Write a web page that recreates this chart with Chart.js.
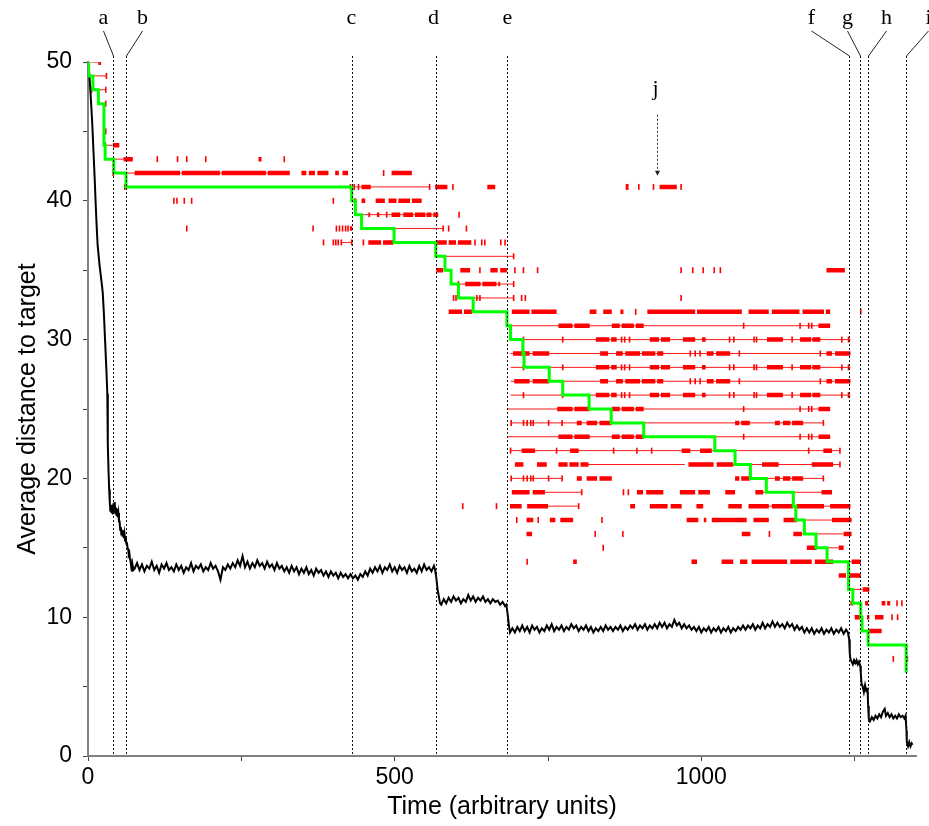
<!DOCTYPE html>
<html><head><meta charset="utf-8">
<script src="https://cdn.jsdelivr.net/npm/chart.js"></script>
<style>html,body{margin:0;padding:0;background:#fff}canvas{display:block}</style>
</head><body>
<canvas id="c" width="929" height="826"></canvas>
<script>
// ---------- DATA ----------
const xTickLabels = [0, 500, 1000];
const yTickLabels = [0, 10, 20, 30, 40, 50];
const eventLabels = ['a','b','c','d','e','f','g','h','i'];
const eventT = [41, 62, 430, 567, 683, 1241, 1259, 1271, 1334];
const jLabel = 'j';
const jT = 927;

// best distance (green step line): time of change, new value
const greenT = [0,1,8,17,26,28,42,62,430,436,446,499,567,582,592,604,628,683,689,709,711,752,774,817,853,906,1022,1055,1080,1106,1150,1154,1168,1187,1205,1240,1247,1260,1262,1272,1334];
const greenV = [50,49,48,47,44,43,42,41,40,39,38,37,36,35,34,33,32,31,30,29,28,27,26,25,24,23,22,21,20,19,18,17,16,15,14,12,11,10,9,8,6];

// average distance (black), [time, value]
const blackSeries = [
[0,50],[2,49.2],[4.5,47.5],[7,45.5],[9,43.5],[11,41.5],[12.5,39.8],[14,38.3],[15.7,36.8],[19,35.3],[22,34.2],[24,33.4],[26,31.8],[28,29.8],[30,27.8],[31.5,26.1],[32,24.2],[32.6,22.4],[33.5,20.5],[34.5,19.2],[35.5,18.3],[36.5,17.6],[37.5,18.1],[38.5,17.5],[39.5,18.0],[40.5,17.4],[41.5,18.2],[42.5,17.6],[43.5,18.3],[44.5,17.5],[45.5,17.9],[46.5,17.3],[47.5,17.8],[48.5,17.2],[49.5,17.5],[50.5,16.9],[51.5,16.9],[52.5,16.3],[53.5,16.5],[54.5,15.9],[55.5,16.3],[56.5,15.8],[57.5,16.2],[58.5,15.7],[59.5,16.0],[60.5,15.5],[61.5,15.8],[62.5,15.3],[63.5,15.4],[64.5,15.0],[65.5,14.9],[66.5,14.5],[67.5,14.6],[68.5,14.2],[69.5,14.0],[70.5,13.6],[71.5,13.3],[72.5,13.8],[74,13.4],
[76,13.5],[80,13.9],[84,13.4],[88,13.8],[92,13.3],[96,13.7],[100,13.5],[104,14.0],[108,13.4],[112,13.7],[116,13.2],[120,13.8],[124,13.5],[128,13.9],[132,13.4],[136,13.6],[140,13.3],[144,13.8],[148,13.4],[152,13.7],[156,13.2],[160,13.6],[164,13.4],[168,13.9],[172,13.3],[176,13.7],[180,13.5],[184,13.8],[188,13.3],[192,13.6],[196,13.4],[200,13.9],[204,13.5],[208,13.7],[212,13.3],[216,12.7],[220,13.6],[224,13.4],[228,13.8],[232,13.5],[236,13.9],[240,13.6],[244,14.1],[248,13.7],[252,14.4],[256,13.6],[260,14.0],[264,13.5],[268,13.9],[272,13.6],[276,14.1],[280,13.7],[284,13.9],[288,13.5],[292,14.0],[296,13.6],[300,13.8],[304,13.4],[308,13.9],[312,13.5],[316,13.7],[320,13.3],[324,13.6],[328,13.2],[332,13.7],[336,13.3],[340,13.6],[344,13.1],[348,13.5],[352,13.2],[356,13.6],[360,13.1],[364,13.4],[368,13.0],[372,13.5],[376,13.2],[380,13.4],[384,13.0],[388,13.3],[392,12.9],[396,13.3],[400,13.0],[404,13.2],[408,12.8],[412,13.2],[416,12.9],[420,13.1],[424,12.8],[428,13.1],[432,12.8],[436,13.0],[440,12.7],[444,13.1],[448,12.9],[452,13.3],[456,13.0],[460,13.5],[464,13.2],[468,13.6],[472,13.3],[476,13.7],[480,13.2],[484,13.6],[488,13.4],[492,13.8],[496,13.3],[500,13.6],[504,13.2],[508,13.7],[512,13.4],[516,13.6],[520,13.2],[524,13.7],[528,13.3],[532,13.5],[536,13.2],[540,13.7],[544,13.3],[548,13.8],[552,13.4],[556,13.6],[560,13.3],[564,13.7],[566,13.4],
[568,12.8],[570,12.0],[572,11.5],[574,11.0],[576,10.9],
[580,11.3],[584,11.0],[588,11.4],[592,11.1],[596,11.5],[600,11.2],[604,11.4],[608,11.0],[612,11.3],[616,11.1],[620,11.6],[624,11.2],[628,11.5],[632,11.1],[636,11.4],[640,11.2],[644,11.5],[648,11.1],[652,11.3],[656,11.0],[660,11.3],[664,11.1],[668,11.2],[672,10.9],[676,11.1],[680,10.8],[682,10.9],
[684,10.3],[686,9.5],[688,8.9],
[692,9.2],[696,8.9],[700,9.3],[704,9.0],[708,9.4],[712,9.0],[716,9.3],[720,8.9],[724,9.4],[728,9.1],[732,9.3],[736,8.9],[740,9.2],[744,9.0],[748,9.4],[752,9.1],[756,9.5],[760,9.0],[764,9.3],[768,9.1],[772,9.4],[776,9.0],[780,9.3],[784,9.1],[788,9.5],[792,9.2],[796,9.4],[800,9.0],[804,9.3],[808,9.1],[812,9.4],[816,9.0],[820,9.3],[824,8.9],[828,9.2],[832,9.0],[836,9.3],[840,9.0],[844,9.4],[848,9.1],[852,9.3],[856,9.0],[860,9.3],[864,9.1],[868,9.4],[872,9.0],[876,9.3],[880,9.1],[884,9.4],[888,9.2],[892,9.5],[896,9.1],[900,9.4],[904,9.2],[908,9.5],[912,9.1],[916,9.4],[920,9.2],[924,9.5],[928,9.2],[932,9.6],[936,9.3],[940,9.6],[944,9.2],[948,9.5],[952,9.3],[956,9.8],[960,9.4],[964,9.6],[968,9.2],[972,9.5],[976,9.2],[980,9.4],[984,9.1],[988,9.3],[992,9.0],[996,9.3],[1000,8.9],[1004,9.2],[1008,9.0],[1012,9.3],[1016,8.9],[1020,9.2],[1024,9.0],[1028,9.3],[1032,8.9],[1036,9.2],[1040,9.0],[1044,9.3],[1048,8.9],[1052,9.2],[1056,9.0],[1060,9.3],[1064,9.1],[1068,9.4],[1072,9.1],[1076,9.4],[1080,9.2],[1084,9.5],[1088,9.1],[1092,9.4],[1096,9.2],[1100,9.6],[1104,9.2],[1108,9.5],[1112,9.3],[1116,9.7],[1120,9.3],[1124,9.6],[1128,9.3],[1132,9.5],[1136,9.2],[1140,9.6],[1144,9.3],[1148,9.5],[1152,9.1],[1156,9.4],[1160,9.1],[1164,9.3],[1168,8.9],[1172,9.2],[1176,8.9],[1180,9.2],[1184,8.8],[1188,9.1],[1192,8.9],[1196,9.2],[1200,8.8],[1204,9.1],[1208,8.9],[1212,9.2],[1216,8.8],[1220,9.1],[1224,8.9],[1228,9.2],[1232,8.8],[1236,9.1],[1239,8.9],
[1241,8.4],[1242,7.4],[1243,7.0],
[1245,6.8],[1247,6.6],[1249,6.9],[1251,6.7],[1253,6.9],[1255,6.6],[1257,6.8],[1259,6.5],
[1260,6.0],[1261,5.3],[1263,5.0],[1265,4.6],[1267,5.1],[1269,4.7],[1271,4.8],[1272,3.6],[1273,2.7],
[1275,2.5],[1278,2.8],[1281,2.6],[1284,2.9],[1287,2.7],[1290,3.0],[1293,2.8],[1296,3.2],[1299,3.4],[1301,2.9],[1304,3.1],[1307,2.8],[1310,3.0],[1313,2.7],[1316,2.9],[1319,2.7],[1322,3.0],[1325,2.8],[1328,2.9],[1331,2.7],[1333,2.9],
[1334.5,1.8],[1335,1.0],[1337,0.7],[1339,1.0],[1341,0.7],[1343,0.9],[1344,0.8]
];

// red lineages: thin lines [y, from, to]
const redSpans = [
[50,0,20],[49,1,30],[48,6,29],[44,28,51],[43,28,73],[42,41,329],
[41,428,557],[39,446,571],[38,499,579],[37,413,430],[36,582,694],[34,604,694],[33,628,694],
[31,685,1210],[30,689,1243],[29,689,1243],[28,689,1243],[27,689,1243],[26,689,1243],[25,683,1210],[24,689,1199],[23,683,1210],[22,689,1226],
[21,815,973],[21,1052,1226],[20,689,772],[20,1079,1199],[19,745,805],[19,1101,1205],[18,750,800],[18,1077,1243],[17,1156,1213],[16,1164,1232],[15,1188,1224],[14,1204,1245],[12,1241,1263]
];
// red dense clusters [y, from, to]
const redBlocks = [
[44,41,51],[43,58,73],[43,278,283],
[42,76,150],[42,153,215],[42,218,290],[42,293,329],[42,348,356],[42,360,370],[42,374,392],[42,403,409],[42,415,424],[42,495,528],
[41,446,461],[41,566,586],[41,651,664],[41,932,960],
[40,433,438],[40,446,452],[40,469,484],[40,490,503],[40,506,525],[40,528,544],
[39,457,460],[39,471,475],[39,495,509],[39,514,530],[39,533,550],[39,552,560],[39,563,571],
[38,427,431],
[37,457,478],[37,481,498],[37,567,585],[37,588,600],[37,603,625],
[35,568,579],[35,607,623],[35,656,668],[35,672,683],[35,1204,1234],
[34,615,640],[34,643,666],[34,669,672],
[32,588,610],[32,613,626],[32,691,720],[32,723,764],[32,818,829],[32,840,854],[32,868,873],[32,912,990],[32,993,1066],[32,1077,1110],[32,1115,1160],[32,1165,1200],[32,1203,1210],
[31,767,790],[31,793,818],[31,854,867],[31,870,890],[31,893,906],[31,1191,1210],
[30,828,850],[30,853,862],[30,916,931],[30,934,949],[30,970,990],[30,1001,1007],[30,1107,1133],[30,1161,1179],[30,1181,1194],
[29,693,720],[29,725,752],[29,835,848],[29,861,872],[29,876,900],[29,903,925],[29,928,938],[29,1009,1020],[29,1024,1047],[29,1204,1213],[29,1218,1243],
[28,828,850],[28,853,862],[28,916,931],[28,934,949],[28,970,990],[28,1001,1007],[28,1107,1133],[28,1161,1179],[28,1181,1194],
[27,695,720],[27,725,752],[27,835,848],[27,861,872],[27,876,900],[27,903,925],[27,928,938],[27,1009,1020],[27,1024,1047],[27,1204,1213],[27,1218,1243],
[26,828,850],[26,853,862],[26,916,931],[26,934,949],[26,970,990],[26,1001,1007],[26,1107,1133],[26,1161,1179],[26,1181,1194],
[25,765,790],[25,793,818],[25,854,867],[25,870,890],[25,893,906],[25,1191,1210],
[24,797,805],[24,813,830],[24,834,854],[24,1055,1062],[24,1065,1079],[24,1120,1128],[24,1133,1145],[24,1148,1166],
[23,767,790],[23,793,818],[23,854,867],[23,870,890],[23,893,906],[23,1191,1210],
[22,707,729],[22,786,800],[22,968,982],[22,998,1017],[22,1199,1213],
[21,696,710],[21,732,748],[21,767,782],[21,785,800],[21,803,816],[21,979,1020],[21,1025,1052],[21,1099,1126],[21,1180,1215],
[20,797,805],[20,813,830],[20,834,854],[20,1055,1062],[20,1065,1079],[20,1120,1128],[20,1133,1145],[20,1148,1166],
[19,691,720],[19,725,745],[19,895,905],[19,910,938],[19,965,990],[19,995,1014],[19,1039,1055],[19,1088,1101],[19,1196,1213],
[18,688,707],[18,716,750],[18,884,892],[18,916,945],[18,950,968],[18,992,1003],[18,1044,1066],[18,1077,1110],[18,1115,1150],[18,1155,1200],[18,1210,1243],
[17,715,726],[17,753,762],[17,770,791],[17,976,995],[17,1004,1008],[17,1017,1074],[17,1085,1110],[17,1134,1156],[17,1213,1245],
[16,715,724],[16,1066,1080],[16,1150,1164],[16,1232,1245],
[15,1172,1188],[15,1224,1232],
[14,791,797],[14,984,993],[14,1033,1052],[14,1063,1075],[14,1082,1140],[14,1145,1180],[14,1185,1215],[14,1245,1260],
[13,1224,1236],[13,1240,1260],
[12,1263,1274],
[11,1243,1248],[11,1267,1272],[11,1294,1300],[11,1303,1308],
[10,1250,1259],[10,1270,1274],[10,1283,1297],
[9,1272,1294]
];
// red isolated individuals [y, [times]]
const redTicks = [
[50,[18,20]],[49,[30]],[48,[6,29]],[47,[29]],[45,[29]],[44,[28]],
[43,[113,146,161,192,320]],
[42,[41,482]],
[41,[60,428,434,441,557,595,878,880,898,922,967]],
[40,[140,145,157,169,400]],
[39,[487,605]],
[38,[161,367,405,410,415,420,424,579,588,617]],
[37,[384,400,404,408,413,430,449,631,642,647,673,680]],
[36,[694]],
[35,[639,696,710,733,967,986,1003,1021,1031]],
[34,[604,694]],
[33,[596,600,634,639,694,707,713,967]],
[32,[893,1260]],
[31,[1069,1161,1175,1180]],
[30,[710,774,870,875,883,1046,1053,1086,1090,1148,1229,1240]],
[29,[982,990,998,1062,1194]],
[28,[710,774,870,875,883,1046,1053,1086,1090,1148,1229,1240]],
[27,[982,990,998,1062,1194]],
[26,[710,774,870,875,883,1046,1053,1086,1090,1148,1229,1240]],
[25,[1069,1161,1175,1180]],
[24,[690,710,716,722,726,751,773,1199]],
[23,[1069,1161,1175,1180]],
[22,[689,764,857,895,919,1175,1226]],
[21,[1226]],
[20,[690,710,716,722,726,751,773,1199]],
[19,[805,873,881]],
[18,[611,666,800]],
[17,[699,734,838]],
[16,[827,872,1111]],
[15,[840]],
[14,[716]],
[11,[1319,1327]],
[10,[1311,1320]],
[7,[1313,1336]]
];

// ---------- BUILD ----------
function segData(list){
  const out=[];
  list.forEach(([y,a,b])=>{ out.push({x:a,y:y},{x:b,y:y},{x:b,y:null}); });
  return out;
}
const tickData = [];
redTicks.forEach(([y,xs])=>xs.forEach(x=>tickData.push({x:x,y:y})));
const greenData = greenT.map((t,i)=>({x:t,y:greenV[i]}));
const blackData = blackSeries.map(([t,v])=>({x:t,y:v}));

const SANS = '"Liberation Sans", Arial, sans-serif';
const SERIF = '"Liberation Serif", "Times New Roman", serif';

const labelDx = [-10, 16, -1, -3, 0, -38, -13, 18, 22];

const annot = {
  id:'annot',
  afterDatasetsDraw(chart){
    const {ctx, scales:{x, y}} = chart;
    const bottom = y.getPixelForValue(0);
    const top = 56;
    ctx.save();
    ctx.strokeStyle = '#111';
    ctx.lineWidth = 1;
    ctx.setLineDash([2,2]);
    eventT.forEach(t=>{
      const px = Math.round(x.getPixelForValue(t)) + 0.5;
      ctx.beginPath(); ctx.moveTo(px, top); ctx.lineTo(px, bottom); ctx.stroke();
    });
    ctx.setLineDash([]);
    ctx.fillStyle = '#000';
    ctx.font = '22px ' + SERIF;
    ctx.textAlign = 'center';
    ctx.textBaseline = 'alphabetic';
    eventT.forEach((t,i)=>{
      const px = Math.round(x.getPixelForValue(t)) + 0.5;
      const lx = px + labelDx[i];
      ctx.fillText(eventLabels[i], lx, 24);
      if (Math.abs(labelDx[i]) > 4) {
        ctx.strokeStyle = '#222';
        ctx.lineWidth = 1;
        ctx.beginPath(); ctx.moveTo(lx, 31); ctx.lineTo(px, top); ctx.stroke();
      }
    });
    // j arrow
    const jx = Math.round(x.getPixelForValue(jT)) + 0.5;
    ctx.fillText(jLabel, jx - 2, 95);
    const a0 = y.getPixelForValue(46.2), a1 = y.getPixelForValue(41.8);
    ctx.strokeStyle = '#333';
    ctx.setLineDash([2,2]);
    ctx.beginPath(); ctx.moveTo(jx, a0); ctx.lineTo(jx, a1 - 3); ctx.stroke();
    ctx.setLineDash([]);
    ctx.fillStyle = '#222';
    ctx.beginPath(); ctx.moveTo(jx - 2.5, a1 - 5); ctx.lineTo(jx + 2.5, a1 - 5); ctx.lineTo(jx, a1); ctx.closePath(); ctx.fill();
    ctx.restore();
  }
};

new Chart(document.getElementById('c'), {
  type:'line',
  data:{ datasets:[
    { data: greenData, borderColor:'#00ff00', borderWidth:3, stepped:'before', pointRadius:0, fill:false, order:0 },
    { data: blackData, borderColor:'#000', borderWidth:2, pointRadius:0, fill:false, tension:0, order:1 },
    { data: tickData, showLine:false, pointStyle:'line', rotation:90, pointRadius:3, pointBorderWidth:1.6, pointBorderColor:'#ff0000', pointBackgroundColor:'#ff0000', order:2 },
    { data: segData(redBlocks), borderColor:'#ff0000', borderWidth:4.5, borderCapStyle:'butt', pointRadius:0, spanGaps:false, fill:false, order:3 },
    { data: segData(redSpans), borderColor:'rgba(255,0,0,0.9)', borderWidth:1, pointRadius:0, spanGaps:false, fill:false, order:4 }
  ]},
  options:{
    responsive:false, animation:false, devicePixelRatio:1,
    layout:{ padding:{ top:62, right:13, bottom:0, left:0 } },
    plugins:{ legend:{display:false}, tooltip:{enabled:false} },
    events:[],
    scales:{
      x:{ type:'linear', min:0, max:1350,
        border:{ display:true, color:'#808080', width:2 },
        grid:{ drawOnChartArea:false, drawTicks:true, tickLength:5, color:'#444' },
        ticks:{ stepSize:250, includeBounds:false, autoSkip:false, maxRotation:0, color:'#000', padding:3,
          font:{ family:SANS, size:23 },
          callback:(v)=> xTickLabels.includes(v) ? String(v) : '' },
        title:{ display:true, text:'Time (arbitrary units)', color:'#000', font:{ family:SANS, size:25 }, padding:{top:0,bottom:4} },
        afterFit:(s)=>{ s.height = 70; }
      },
      y:{ type:'linear', min:0, max:50,
        border:{ display:true, color:'#808080', width:2 },
        grid:{ drawOnChartArea:false, drawTicks:true, tickLength:5, color:'#444' },
        ticks:{ stepSize:5, autoSkip:false, color:'#000', padding:11,
          font:{ family:SANS, size:23 },
          callback:(v)=> yTickLabels.includes(v) ? String(v) : '' },
        title:{ display:true, text:'Average distance to target', color:'#000', font:{ family:SANS, size:25 }, padding:{top:13,bottom:0} },
        afterFit:(s)=>{ s.width = 88; }
      }
    }
  },
  plugins:[annot]
});
</script>
</body></html>
